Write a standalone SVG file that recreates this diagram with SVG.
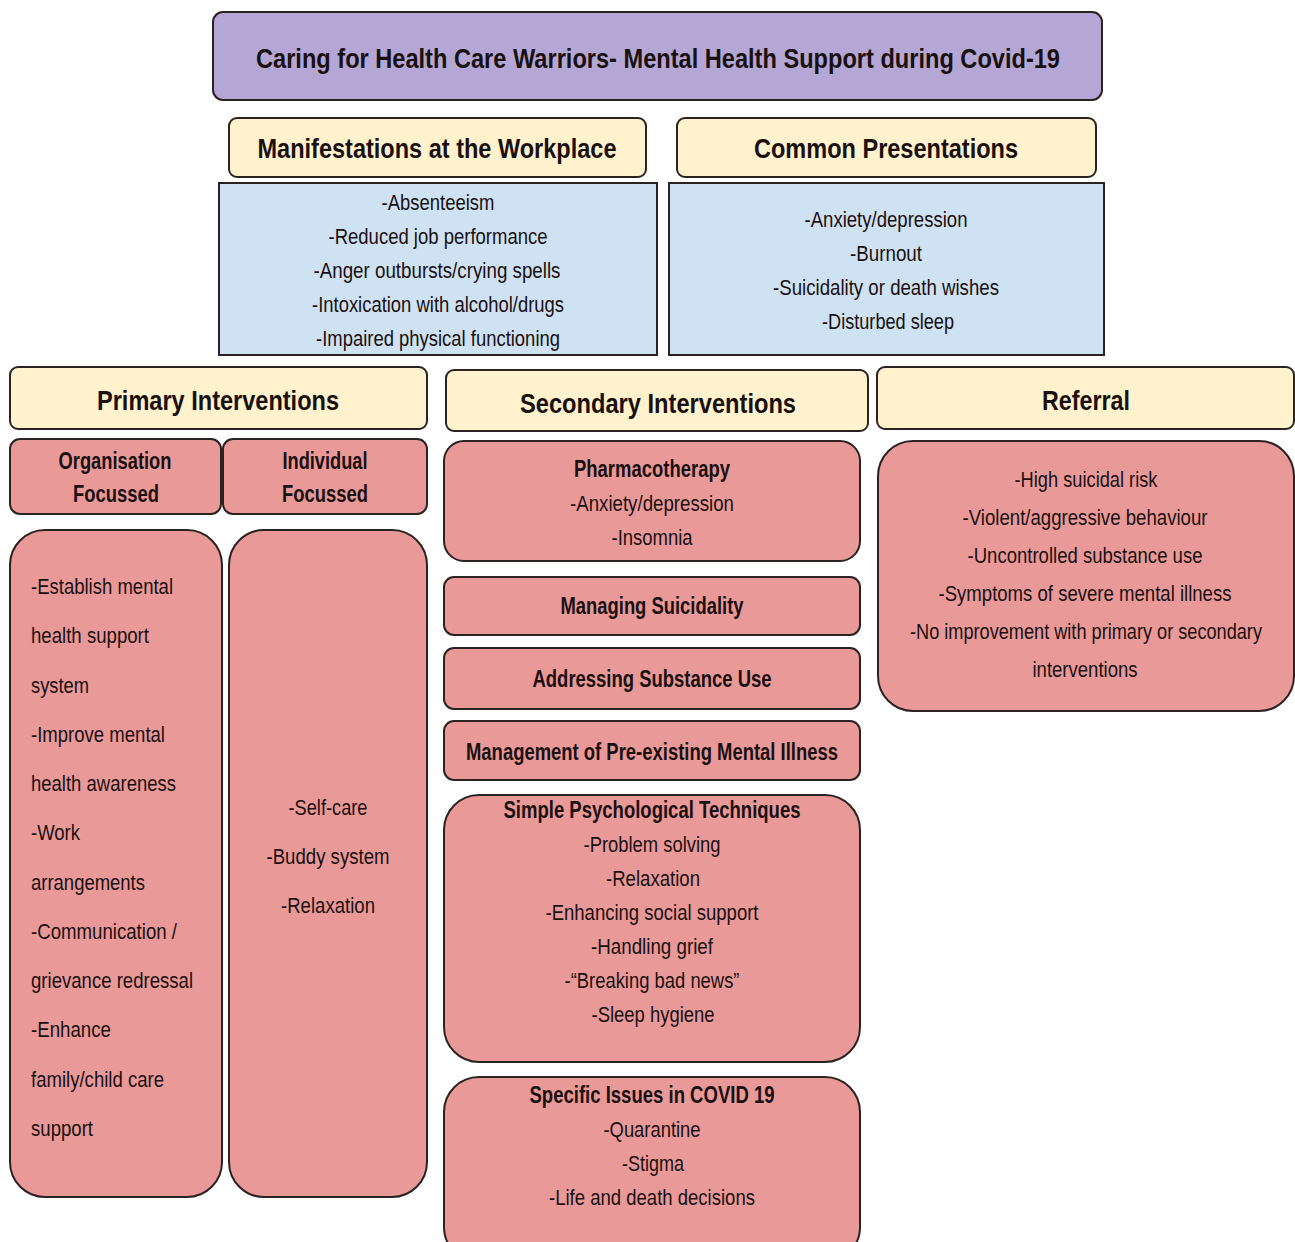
<svg xmlns="http://www.w3.org/2000/svg" width="1295" height="1242" viewBox="0 0 1295 1242">
<style>
.box{stroke:#2b2222;stroke-width:2}
.purple{fill:#b4a7d6}
.yellow{fill:#fff2cc}
.blue{fill:#cfe2f3}
.pink{fill:#ea9999}
text{font-family:"Liberation Sans",Arial,sans-serif;fill:#1a1010}
.h{font-weight:bold;font-size:28px;text-anchor:middle}
.sh{font-weight:bold;font-size:23px;text-anchor:middle}
.t{font-size:22px;text-anchor:middle}
.l{font-size:22px}
</style>
<rect width="1295" height="1242" fill="#ffffff"/>
<g id="connectors"/>
<g id="title">
<rect class="box purple" x="213" y="12" width="889" height="88" rx="10"/>
<text class="h" x="658" y="68" textLength="804" lengthAdjust="spacingAndGlyphs">Caring for Health Care Warriors- Mental Health Support during Covid-19</text>
</g>
<g id="manifestations-header">
<rect class="box yellow" x="229" y="118" width="417" height="59" rx="8"/>
<text class="h" x="437" y="158" textLength="359" lengthAdjust="spacingAndGlyphs">Manifestations at the Workplace</text>
</g>
<g id="presentations-header">
<rect class="box yellow" x="677" y="118" width="419" height="59" rx="8"/>
<text class="h" x="886" y="158" textLength="264" lengthAdjust="spacingAndGlyphs">Common Presentations</text>
</g>
<g id="manifestations-list">
<rect class="box blue" x="219" y="183" width="438" height="172"/>
<text class="t" x="438" y="210" textLength="113" lengthAdjust="spacingAndGlyphs">-Absenteeism</text>
<text class="t" x="438" y="244" textLength="219" lengthAdjust="spacingAndGlyphs">-Reduced job performance</text>
<text class="t" x="437" y="278" textLength="247" lengthAdjust="spacingAndGlyphs">-Anger outbursts/crying spells</text>
<text class="t" x="438" y="312" textLength="252" lengthAdjust="spacingAndGlyphs">-Intoxication with alcohol/drugs</text>
<text class="t" x="438" y="346" textLength="244" lengthAdjust="spacingAndGlyphs">-Impaired physical functioning</text>
</g>
<g id="presentations-list">
<rect class="box blue" x="669" y="183" width="435" height="172"/>
<text class="t" x="886" y="227" textLength="163" lengthAdjust="spacingAndGlyphs">-Anxiety/depression</text>
<text class="t" x="886" y="261" textLength="72" lengthAdjust="spacingAndGlyphs">-Burnout</text>
<text class="t" x="886" y="295" textLength="226" lengthAdjust="spacingAndGlyphs">-Suicidality or death wishes</text>
<text class="t" x="888" y="329" textLength="132" lengthAdjust="spacingAndGlyphs">-Disturbed sleep</text>
</g>
<g id="primary-header">
<rect class="box yellow" x="10" y="367" width="417" height="62" rx="8"/>
<text class="h" x="218" y="410" textLength="242" lengthAdjust="spacingAndGlyphs">Primary Interventions</text>
</g>
<g id="secondary-header">
<rect class="box yellow" x="446" y="370" width="422" height="61" rx="8"/>
<text class="h" x="658" y="413" textLength="276" lengthAdjust="spacingAndGlyphs">Secondary Interventions</text>
</g>
<g id="referral-header">
<rect class="box yellow" x="877" y="367" width="417" height="62" rx="8"/>
<text class="h" x="1086" y="410" textLength="88" lengthAdjust="spacingAndGlyphs">Referral</text>
</g>
<g id="organisation-header">
<rect class="box pink" x="10" y="439" width="211" height="75" rx="10"/>
<text class="sh" x="115" y="469" textLength="113" lengthAdjust="spacingAndGlyphs">Organisation</text>
<text class="sh" x="116" y="502" textLength="86" lengthAdjust="spacingAndGlyphs">Focussed</text>
</g>
<g id="individual-header">
<rect class="box pink" x="223" y="439" width="204" height="75" rx="10"/>
<text class="sh" x="325" y="469" textLength="85" lengthAdjust="spacingAndGlyphs">Individual</text>
<text class="sh" x="325" y="502" textLength="86" lengthAdjust="spacingAndGlyphs">Focussed</text>
</g>
<g id="organisation-list">
<rect class="box pink" x="10" y="530" width="212" height="667" rx="35"/>
<text class="l" x="31" y="594" textLength="142" lengthAdjust="spacingAndGlyphs">-Establish mental</text>
<text class="l" x="31" y="643" textLength="118" lengthAdjust="spacingAndGlyphs">health support</text>
<text class="l" x="31" y="693" textLength="58" lengthAdjust="spacingAndGlyphs">system</text>
<text class="l" x="31" y="742" textLength="134" lengthAdjust="spacingAndGlyphs">-Improve mental</text>
<text class="l" x="31" y="791" textLength="145" lengthAdjust="spacingAndGlyphs">health awareness</text>
<text class="l" x="31" y="840" textLength="49" lengthAdjust="spacingAndGlyphs">-Work</text>
<text class="l" x="31" y="890" textLength="114" lengthAdjust="spacingAndGlyphs">arrangements</text>
<text class="l" x="31" y="939" textLength="146" lengthAdjust="spacingAndGlyphs">-Communication /</text>
<text class="l" x="31" y="988" textLength="162" lengthAdjust="spacingAndGlyphs">grievance redressal</text>
<text class="l" x="31" y="1037" textLength="80" lengthAdjust="spacingAndGlyphs">-Enhance</text>
<text class="l" x="31" y="1087" textLength="133" lengthAdjust="spacingAndGlyphs">family/child care</text>
<text class="l" x="31" y="1136" textLength="62" lengthAdjust="spacingAndGlyphs">support</text>
</g>
<g id="individual-list">
<rect class="box pink" x="229" y="530" width="198" height="667" rx="35"/>
<text class="t" x="328" y="815" textLength="79" lengthAdjust="spacingAndGlyphs">-Self-care</text>
<text class="t" x="328" y="864" textLength="123" lengthAdjust="spacingAndGlyphs">-Buddy system</text>
<text class="t" x="328" y="913" textLength="94" lengthAdjust="spacingAndGlyphs">-Relaxation</text>
</g>
<g id="pharmacotherapy">
<rect class="box pink" x="444" y="441" width="416" height="120" rx="20"/>
<text class="sh" x="652" y="477" textLength="156" lengthAdjust="spacingAndGlyphs">Pharmacotherapy</text>
<text class="t" x="652" y="511" textLength="164" lengthAdjust="spacingAndGlyphs">-Anxiety/depression</text>
<text class="t" x="652" y="545" textLength="81" lengthAdjust="spacingAndGlyphs">-Insomnia</text>
</g>
<g id="managing-suicidality">
<rect class="box pink" x="444" y="577" width="416" height="58" rx="10"/>
<text class="sh" x="652" y="614" textLength="183" lengthAdjust="spacingAndGlyphs">Managing Suicidality</text>
</g>
<g id="substance-use">
<rect class="box pink" x="444" y="648" width="416" height="61" rx="10"/>
<text class="sh" x="652" y="687" textLength="239" lengthAdjust="spacingAndGlyphs">Addressing Substance Use</text>
</g>
<g id="pre-existing">
<rect class="box pink" x="444" y="721" width="416" height="59" rx="10"/>
<text class="sh" x="652" y="760" textLength="372" lengthAdjust="spacingAndGlyphs">Management of Pre-existing Mental Illness</text>
</g>
<g id="psychological-techniques">
<rect class="box pink" x="444" y="795" width="416" height="267" rx="35"/>
<text class="sh" x="652" y="818" textLength="297" lengthAdjust="spacingAndGlyphs">Simple Psychological Techniques</text>
<text class="t" x="652" y="852" textLength="137" lengthAdjust="spacingAndGlyphs">-Problem solving</text>
<text class="t" x="653" y="886" textLength="94" lengthAdjust="spacingAndGlyphs">-Relaxation</text>
<text class="t" x="652" y="920" textLength="213" lengthAdjust="spacingAndGlyphs">-Enhancing social support</text>
<text class="t" x="652" y="954" textLength="122" lengthAdjust="spacingAndGlyphs">-Handling grief</text>
<text class="t" x="652" y="988" textLength="175" lengthAdjust="spacingAndGlyphs">-“Breaking bad news”</text>
<text class="t" x="653" y="1022" textLength="123" lengthAdjust="spacingAndGlyphs">-Sleep hygiene</text>
</g>
<g id="covid-issues">
<rect class="box pink" x="444" y="1077" width="416" height="185" rx="35"/>
<text class="sh" x="652" y="1103" textLength="245" lengthAdjust="spacingAndGlyphs">Specific Issues in COVID 19</text>
<text class="t" x="652" y="1137" textLength="97" lengthAdjust="spacingAndGlyphs">-Quarantine</text>
<text class="t" x="653" y="1171" textLength="62" lengthAdjust="spacingAndGlyphs">-Stigma</text>
<text class="t" x="652" y="1205" textLength="206" lengthAdjust="spacingAndGlyphs">-Life and death decisions</text>
</g>
<g id="referral-list">
<rect class="box pink" x="878" y="441" width="416" height="270" rx="35"/>
<text class="t" x="1086" y="487" textLength="143" lengthAdjust="spacingAndGlyphs">-High suicidal risk</text>
<text class="t" x="1085" y="525" textLength="245" lengthAdjust="spacingAndGlyphs">-Violent/aggressive behaviour</text>
<text class="t" x="1085" y="563" textLength="235" lengthAdjust="spacingAndGlyphs">-Uncontrolled substance use</text>
<text class="t" x="1085" y="601" textLength="293" lengthAdjust="spacingAndGlyphs">-Symptoms of severe mental illness</text>
<text class="t" x="1086" y="639" textLength="352" lengthAdjust="spacingAndGlyphs">-No improvement with primary or secondary</text>
<text class="t" x="1085" y="677" textLength="105" lengthAdjust="spacingAndGlyphs">interventions</text>
</g>
</svg>
